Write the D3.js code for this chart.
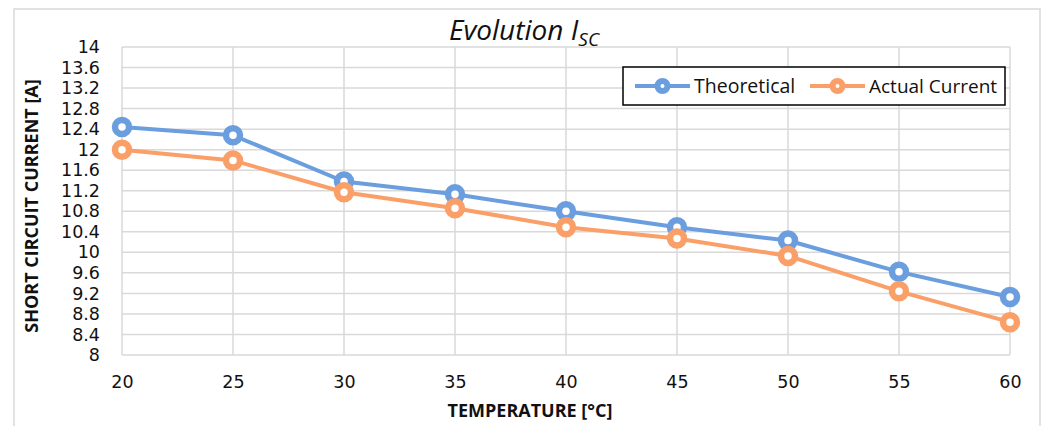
<!DOCTYPE html>
<html><head><meta charset="utf-8">
<script src="https://cdn.jsdelivr.net/npm/d3@7"></script>
<style>body{margin:0;background:#fff;} svg{display:block;font-family:"Open Sans",sans-serif;}</style>
</head><body><svg id="c" width="1046" height="426"></svg>
<script>
const temperatures = [20, 25, 30, 35, 40, 45, 50, 55, 60];
const theoretical = [12.44, 12.28, 11.38, 11.13, 10.80, 10.49, 10.23, 9.62, 9.13];
const actualCurrent = [12.0, 11.79, 11.17, 10.86, 10.49, 10.27, 9.93, 9.24, 8.64];
const yTicks = [8, 8.4, 8.8, 9.2, 9.6, 10, 10.4, 10.8, 11.2, 11.6, 12, 12.4, 12.8, 13.2, 13.6, 14];
const seriesNames = ["Theoretical", "Actual Current"];
const colors = ["#6b9edf", "#fa9f68"];

const svg = d3.select("#c");
const L = 122, R = 1010, T = 47, B = 355;
const x = d3.scaleLinear().domain([20, 60]).range([L, R]);
const y = d3.scaleLinear().domain([8, 14]).range([B, T]);

// outer border
svg.append("rect").attr("x", 14).attr("y", 9).attr("width", 1026).attr("height", 440)
  .attr("fill", "none").attr("stroke", "#d9d9d9").attr("stroke-width", 1.5);

// gridlines
const grid = svg.append("g").attr("stroke", "#d9d9d9").attr("stroke-width", 1.5);
grid.selectAll(".h").data(yTicks).join("line")
  .attr("x1", L).attr("x2", R).attr("y1", d => y(d)).attr("y2", d => y(d));
grid.selectAll(".v").data(temperatures).join("line")
  .attr("x1", d => x(d)).attr("x2", d => x(d)).attr("y1", T).attr("y2", B);

// y axis labels
const yAxis = d3.axisLeft(y).tickValues(yTicks).tickSize(0).tickPadding(0).tickFormat(d => String(+d.toFixed(1)));
const ya = svg.append("g").attr("transform", `translate(${L - 22},0)`).call(yAxis);
ya.select(".domain").remove();
ya.selectAll("text").attr("font-size", 17.5).attr("fill", "#111").attr("font-family", "DejaVu Sans");

// x axis labels
const xAxis = d3.axisBottom(x).tickValues(temperatures).tickSize(0).tickPadding(0).tickFormat(d3.format("d"));
const xa = svg.append("g").attr("transform", `translate(0,${B + 21})`).call(xAxis);
xa.select(".domain").remove();
xa.selectAll("text").attr("font-size", 17.5).attr("fill", "#111").attr("font-family", "DejaVu Sans");

// titles
const title = svg.append("text").attr("x", 524).attr("y", 40).attr("text-anchor", "middle")
  .attr("font-style", "italic").attr("font-size", 28).attr("fill", "#111");
title.append("tspan").text("Evolution I");
title.append("tspan").attr("font-size", 19).attr("dy", 6).text("SC");

svg.append("text").attr("x", 530).attr("y", 417).attr("text-anchor", "middle")
  .attr("font-weight", "bold").attr("font-size", 18).attr("fill", "#111").text("TEMPERATURE [°C]");
svg.append("text").attr("transform", `translate(38,206) rotate(-90)`).attr("text-anchor", "middle")
  .attr("font-weight", "bold").attr("font-size", 18).attr("fill", "#111").text("SHORT CIRCUIT CURRENT [A]");

// series
const allSeries = [theoretical, actualCurrent];
const line = d3.line().x((d, i) => x(temperatures[i])).y(d => y(d));
allSeries.forEach((vals, s) => {
  svg.append("path").datum(vals).attr("d", line).attr("fill", "none")
    .attr("stroke", colors[s]).attr("stroke-width", 4).attr("stroke-linejoin", "round");
});
allSeries.forEach((vals, s) => {
  svg.append("g").selectAll("circle").data(vals).join("circle")
    .attr("cx", (d, i) => x(temperatures[i])).attr("cy", d => y(d)).attr("r", 7)
    .attr("fill", "#fff").attr("stroke", colors[s]).attr("stroke-width", 6.5);
});

// legend
const lg = svg.append("g");
lg.append("rect").attr("x", 623).attr("y", 67).attr("width", 382).attr("height", 38)
  .attr("fill", "#fff").attr("stroke", "#000").attr("stroke-width", 1.5);
const legX = [635, 810];
const legSize = [19.5, 19];
seriesNames.forEach((name, s) => {
  const g = lg.append("g").attr("transform", `translate(${legX[s]},86)`);
  g.append("line").attr("x1", 0).attr("x2", 55).attr("stroke", colors[s]).attr("stroke-width", 4);
  g.append("circle").attr("cx", 27.5).attr("r", 5).attr("fill", "#fff").attr("stroke", colors[s]).attr("stroke-width", 6);
  g.append("text").attr("x", 59).attr("y", 7).attr("font-size", legSize[s]).attr("fill", "#111").text(name);
});
</script></body></html>
